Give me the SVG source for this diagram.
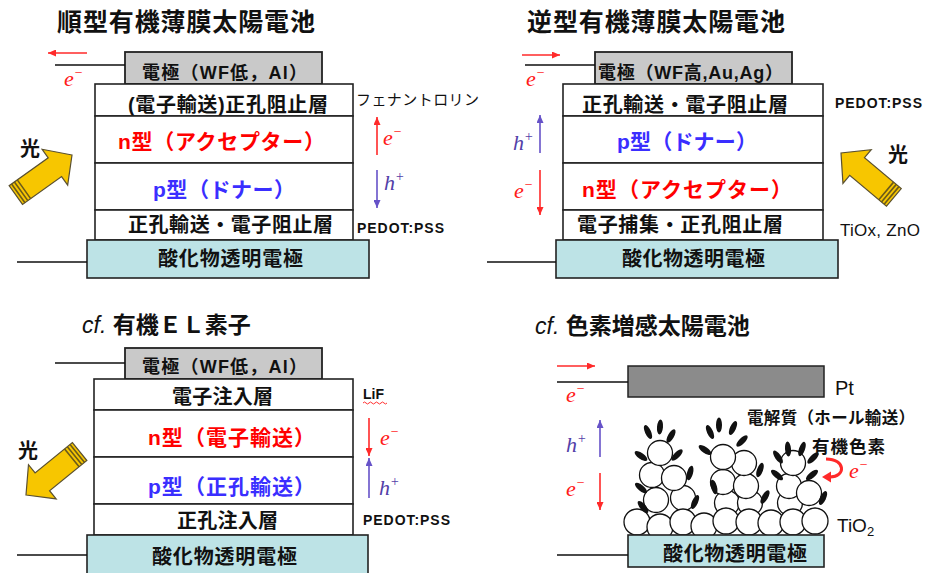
<svg xmlns="http://www.w3.org/2000/svg" width="925" height="573" viewBox="0 0 925 573">
  <style>
    .ja { font-family: "Liberation Sans", "Noto Sans CJK JP", sans-serif; font-weight: bold; fill: #111; }
    .ttl { font-size: 25px; }
    .cf { font-size: 23px; }
    .el { font-size: 18px; }
    .lay { font-size: 20px; }
    .big { font-size: 21px; }
    .red { fill: #ff0000; }
    .blue { fill: #3a2eff; }
    .note { font-family: "Liberation Sans", "Noto Sans CJK JP", sans-serif; font-weight: bold; font-size: 14px; fill: #111; }
    .plain { font-family: "Liberation Sans", "Noto Sans CJK JP", sans-serif; fill: #111; }
    .car { font-family: "Liberation Serif", serif; font-style: italic; font-size: 22px; }
    .ce { fill: #ff1a1a; }
    .ch { fill: #5240a8; }
    .layer { fill: #ffffff; stroke: #222; stroke-width: 1.6; }
    .metal { fill: #c9c9c9; stroke: #222; stroke-width: 1.8; }
    .ito { fill: #bde3e6; stroke: #222; stroke-width: 1.6; }
    .pt { fill: #8b8b8b; stroke: #222; stroke-width: 1.5; }
    .wire { stroke: #111; stroke-width: 1.5; fill: none; }
    .er { stroke: #ff2a2a; stroke-width: 1.6; fill: none; marker-end: url(#hr); }
    .hp { stroke: #6652c8; stroke-width: 1.6; fill: none; marker-end: url(#hp); }
    .tio { fill: #ffffff; stroke: #111; stroke-width: 1.3; }
    .dye { fill: #111; }
  </style>
  <defs>
    <marker id="hr" markerUnits="userSpaceOnUse" markerWidth="8" markerHeight="7" refX="8" refY="3.5" orient="auto">
      <path d="M0,0 L8,3.5 L0,7 z" fill="#ff2a2a"/>
    </marker>
    <marker id="hp" markerUnits="userSpaceOnUse" markerWidth="8" markerHeight="7" refX="8" refY="3.5" orient="auto">
      <path d="M0,0 L8,3.5 L0,7 z" fill="#6652c8"/>
    </marker>
    <!-- light beam arrow: tip at origin, pointing along +x -->
    <g id="light">
      <polygon points="0,0 -21,-22 -21,-11.5 -69,-11.5 -69,11.5 -21,11.5 -21,22" fill="#f7c600" stroke="#5a5030" stroke-width="1.2" stroke-linejoin="miter"/>
      <path d="M-66,-11.5 V11.5 M-62.5,-11.5 V11.5 M-59,-11.5 V11.5" stroke="#6b5a1a" stroke-width="1.6"/>
    </g>
  </defs>

  <!-- ===== conventional organic thin-film solar cell ===== -->
  <text class="ja ttl" x="57" y="31" textLength="258">順型有機薄膜太陽電池</text>
  <g id="tl-electrode">
    <rect class="metal" x="125" y="52" width="197" height="32"/>
    <text class="ja el" x="142" y="79" textLength="165">電極（WF低，Al）</text>
  </g>
  <g id="tl-etl">
    <rect class="layer" x="95" y="84" width="258" height="32"/>
    <text class="ja lay" x="128" y="112" textLength="200">(電子輸送)正孔阻止層</text>
  </g>
  <g id="tl-n">
    <rect class="layer" x="95" y="116" width="258" height="47"/>
    <text class="ja big red" x="118" y="149" textLength="207">n型（アクセプター）</text>
  </g>
  <g id="tl-p">
    <rect class="layer" x="95" y="163" width="258" height="47"/>
    <text class="ja big blue" x="153" y="197" textLength="142">p型（ドナー）</text>
  </g>
  <g id="tl-htl">
    <rect class="layer" x="95" y="210" width="258" height="30"/>
    <text class="ja lay" x="128" y="232" textLength="205">正孔輸送・電子阻止層</text>
  </g>
  <g id="tl-ito">
    <rect class="ito" x="87" y="240" width="282" height="38"/>
    <text class="ja lay" x="158" y="266" textLength="145">酸化物透明電極</text>
  </g>
  <text class="plain" x="356" y="105" font-size="15" textLength="123">フェナントロリン</text>
  <text class="note" x="357" y="233" textLength="87">PEDOT:PSS</text>
  <use href="#light" transform="translate(72,155) rotate(-35.5)"/>
  <text class="ja" x="20" y="156" font-size="20">光</text>

  <!-- ===== inverted organic thin-film solar cell ===== -->
  <text class="ja ttl" x="527" y="31" textLength="258">逆型有機薄膜太陽電池</text>
  <g id="tr-electrode">
    <rect class="metal" x="595" y="52" width="197" height="32"/>
    <text class="ja el" x="598" y="79" textLength="185">電極（WF高,Au,Ag）</text>
  </g>
  <g id="tr-htl">
    <rect class="layer" x="563" y="84" width="260" height="32"/>
    <text class="ja lay" x="582" y="112" textLength="206">正孔輸送・電子阻止層</text>
  </g>
  <g id="tr-p">
    <rect class="layer" x="563" y="116" width="260" height="47"/>
    <text class="ja big blue" x="617" y="149" textLength="140">p型（ドナー）</text>
  </g>
  <g id="tr-n">
    <rect class="layer" x="563" y="163" width="260" height="47"/>
    <text class="ja big red" x="582" y="197" textLength="210">n型（アクセプター）</text>
  </g>
  <g id="tr-etl">
    <rect class="layer" x="563" y="210" width="260" height="30"/>
    <text class="ja lay" x="577" y="232" textLength="206">電子捕集・正孔阻止層</text>
  </g>
  <g id="tr-ito">
    <rect class="ito" x="556" y="240" width="282" height="38"/>
    <text class="ja lay" x="622" y="266" textLength="143">酸化物透明電極</text>
  </g>
  <text class="note" x="835" y="108" textLength="87">PEDOT:PSS</text>
  <text class="plain" x="840" y="236" font-size="17" textLength="80">TiOx, ZnO</text>
  <use href="#light" transform="translate(841,153) rotate(-140)"/>
  <text class="ja" x="888" y="162" font-size="20">光</text>

  <!-- ===== organic EL device ===== -->
  <text class="ja cf" x="82" y="333"><tspan font-style="italic" font-weight="normal">cf.</tspan> 有機ＥＬ素子</text>
  <g id="bl-electrode">
    <rect class="metal" x="125" y="348" width="197" height="31"/>
    <text class="ja el" x="142" y="373" textLength="165">電極（WF低，Al）</text>
  </g>
  <g id="bl-eil">
    <rect class="layer" x="94" y="379" width="259" height="31"/>
    <text class="ja lay" x="172" y="404" textLength="101">電子注入層</text>
  </g>
  <g id="bl-n">
    <rect class="layer" x="94" y="410" width="259" height="47"/>
    <text class="ja big red" x="148" y="445" textLength="167">n型（電子輸送）</text>
  </g>
  <g id="bl-p">
    <rect class="layer" x="94" y="457" width="259" height="47"/>
    <text class="ja big blue" x="148" y="494" textLength="167">p型（正孔輸送）</text>
  </g>
  <g id="bl-hil">
    <rect class="layer" x="94" y="504" width="259" height="31"/>
    <text class="ja lay" x="177" y="528" textLength="101">正孔注入層</text>
  </g>
  <g id="bl-ito">
    <rect class="ito" x="87" y="535" width="281" height="45"/>
    <text class="ja lay" x="152" y="564" textLength="145">酸化物透明電極</text>
  </g>
  <text class="note" x="363" y="399">LiF</text>
  <path d="M363,403 q1.5,-2 3,0 t3,0 t3,0 t3,0 t3,0 t3,0 t3,0 t3,0" fill="none" stroke="#ff3030" stroke-width="1"/>
  <text class="note" x="363" y="525" textLength="87">PEDOT:PSS</text>
  <use href="#light" transform="translate(26,495) rotate(141)"/>
  <text class="ja" x="18" y="458" font-size="20">光</text>

  <!-- ===== dye-sensitized solar cell ===== -->
  <text class="ja cf" x="535" y="334"><tspan font-style="italic" font-weight="normal">cf.</tspan> 色素増感太陽電池</text>
  <g id="br-pt">
    <rect class="pt" x="628" y="366" width="196" height="31"/>
    <text class="plain" x="835" y="395" font-size="20">Pt</text>
  </g>
  <g id="br-tio2">
    <!-- particle stacks -->
    <circle class="tio" cx="656" cy="500" r="12.5"/>
    <circle class="tio" cx="683" cy="498" r="12.5"/>
    <circle class="tio" cx="652" cy="475" r="12.5"/>
    <circle class="tio" cx="674" cy="478" r="12.5"/>
    <circle class="tio" cx="660" cy="453" r="12.5"/>
    <circle class="tio" cx="727" cy="503" r="12.5"/>
    <circle class="tio" cx="750" cy="503" r="12.5"/>
    <circle class="tio" cx="723" cy="482" r="12.5"/>
    <circle class="tio" cx="746" cy="486" r="12.5"/>
    <circle class="tio" cx="744" cy="463" r="12.5"/>
    <circle class="tio" cx="723" cy="457" r="12.5"/>
    <circle class="tio" cx="790" cy="503" r="12.5"/>
    <circle class="tio" cx="789" cy="486" r="12.5"/>
    <circle class="tio" cx="809" cy="493" r="12.5"/>
    <circle class="tio" cx="793" cy="463" r="12.5"/>
    <!-- bottom row -->
    <circle class="tio" cx="637" cy="522" r="13"/>
    <circle class="tio" cx="660" cy="527" r="13"/>
    <circle class="tio" cx="683" cy="522" r="13"/>
    <circle class="tio" cx="704" cy="526" r="13"/>
    <circle class="tio" cx="726" cy="521" r="13"/>
    <circle class="tio" cx="749" cy="522" r="13"/>
    <circle class="tio" cx="771" cy="523" r="13"/>
    <circle class="tio" cx="793" cy="522" r="13"/>
    <circle class="tio" cx="815" cy="521" r="13"/>
    <text class="plain" x="837" y="532" font-size="19">TiO<tspan font-size="13" dy="4">2</tspan></text>
  </g>
  <g id="br-dye">
    <ellipse class="dye" cx="648" cy="432" rx="3" ry="7.5" transform="rotate(-25 648 432)"/>
    <ellipse class="dye" cx="660" cy="427" rx="3" ry="7.5" transform="rotate(5 660 427)"/>
    <ellipse class="dye" cx="671" cy="436" rx="3" ry="7.5" transform="rotate(30 671 436)"/>
    <ellipse class="dye" cx="641" cy="456" rx="3" ry="7.5" transform="rotate(-55 641 456)"/>
    <ellipse class="dye" cx="677" cy="455" rx="3" ry="7.5" transform="rotate(45 677 455)"/>
    <ellipse class="dye" cx="690" cy="473" rx="3" ry="7.5" transform="rotate(15 690 473)"/>
    <ellipse class="dye" cx="641" cy="488" rx="3" ry="7.5" transform="rotate(-50 641 488)"/>
    <ellipse class="dye" cx="695" cy="502" rx="3" ry="7.5" transform="rotate(25 695 502)"/>
    <ellipse class="dye" cx="643" cy="507" rx="3" ry="7.5" transform="rotate(-40 643 507)"/>
    <ellipse class="dye" cx="710" cy="432" rx="3" ry="7.5" transform="rotate(-25 710 432)"/>
    <ellipse class="dye" cx="719" cy="425" rx="3" ry="7.5" transform="rotate(0 719 425)"/>
    <ellipse class="dye" cx="733" cy="428" rx="3" ry="7.5" transform="rotate(25 733 428)"/>
    <ellipse class="dye" cx="705" cy="450" rx="3" ry="7.5" transform="rotate(-55 705 450)"/>
    <ellipse class="dye" cx="742" cy="441" rx="3" ry="7.5" transform="rotate(45 742 441)"/>
    <ellipse class="dye" cx="760" cy="470" rx="3" ry="7.5" transform="rotate(20 760 470)"/>
    <ellipse class="dye" cx="714" cy="487" rx="3" ry="7.5" transform="rotate(-15 714 487)"/>
    <ellipse class="dye" cx="765" cy="497" rx="3" ry="7.5" transform="rotate(30 765 497)"/>
    <ellipse class="dye" cx="778" cy="457" rx="3" ry="7.5" transform="rotate(-35 778 457)"/>
    <ellipse class="dye" cx="788" cy="449" rx="3" ry="7.5" transform="rotate(-5 788 449)"/>
    <ellipse class="dye" cx="802" cy="449" rx="3" ry="7.5" transform="rotate(20 802 449)"/>
    <ellipse class="dye" cx="813" cy="458" rx="3" ry="7.5" transform="rotate(45 813 458)"/>
    <ellipse class="dye" cx="777" cy="475" rx="3" ry="7.5" transform="rotate(-50 777 475)"/>
    <ellipse class="dye" cx="812" cy="475" rx="3" ry="7.5" transform="rotate(50 812 475)"/>
    <ellipse class="dye" cx="823" cy="498" rx="3" ry="7.5" transform="rotate(25 823 498)"/>
  </g>
  <g id="br-ito">
    <rect class="ito" x="628" y="535" width="196" height="32"/>
    <text class="ja lay" x="663" y="561" textLength="144">酸化物透明電極</text>
  </g>
  <text class="ja" x="747" y="424" font-size="16.5" textLength="168">電解質（ホール輸送）</text>
  <text class="ja" x="812" y="453" font-size="17.5" textLength="73">有機色素</text>

  <!-- ===== wires and carrier arrows ===== -->
  <g id="connectors">
    <path class="wire" d="M55,65 H125 M17,262 H87"/>
    <path class="wire" d="M525,65 H595 M487,262 H556"/>
    <path class="wire" d="M55,363 H125 M17,555 H87"/>
    <path class="wire" d="M557,382 H628 M557,555 H628"/>

    <path class="er" d="M87,53 H48"/>
    <path class="er" d="M522,55 H560"/>
    <path class="er" d="M557,366 H595"/>

    <path class="er" d="M377,155 V117"/>
    <path class="hp" d="M377,170 V208"/>
    <path class="hp" d="M540,153 V115"/>
    <path class="er" d="M540,170 V215"/>
    <path class="er" d="M369,418 V456"/>
    <path class="hp" d="M369,498 V458"/>
    <path class="hp" d="M600,457 V420"/>
    <path class="er" d="M600,473 V510"/>

    <path d="M826,459 C846,459 846,477 830,477" fill="none" stroke="#ff2a2a" stroke-width="3"/>
    <polygon points="822,477 831,471.5 831,482.5" fill="#ff2a2a"/>
  </g>

  <!-- carrier labels -->
  <text class="car ce" x="64" y="86">e<tspan dy="-9" font-size="14">−</tspan></text>
  <text class="car ce" x="383" y="145">e<tspan dy="-9" font-size="14">−</tspan></text>
  <text class="car ch" x="384" y="190">h<tspan dy="-9" font-size="14">+</tspan></text>

  <text class="car ce" x="526" y="86">e<tspan dy="-9" font-size="14">−</tspan></text>
  <text class="car ch" x="513" y="150">h<tspan dy="-9" font-size="14">+</tspan></text>
  <text class="car ce" x="514" y="198">e<tspan dy="-9" font-size="14">−</tspan></text>

  <text class="car ce" x="380" y="445">e<tspan dy="-9" font-size="14">−</tspan></text>
  <text class="car ch" x="379" y="495">h<tspan dy="-9" font-size="14">+</tspan></text>

  <text class="car ce" x="566" y="402">e<tspan dy="-9" font-size="14">−</tspan></text>
  <text class="car ch" x="566" y="452">h<tspan dy="-9" font-size="14">+</tspan></text>
  <text class="car ce" x="566" y="496">e<tspan dy="-9" font-size="14">−</tspan></text>
  <text class="car ce" x="849" y="478">e<tspan dy="-9" font-size="14">−</tspan></text>
</svg>
